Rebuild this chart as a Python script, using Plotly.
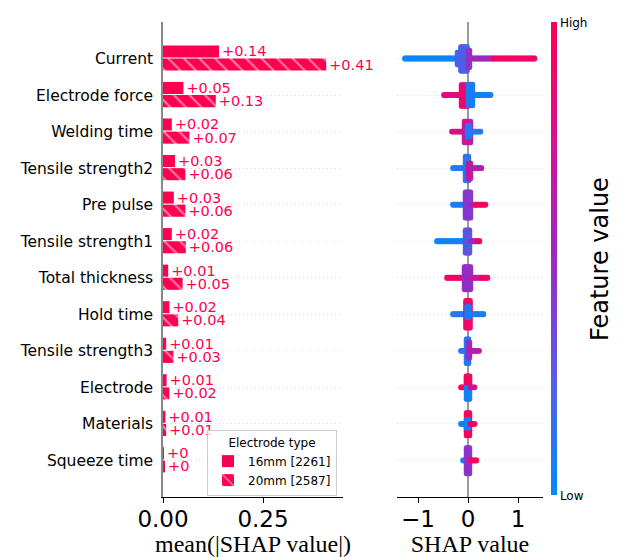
import numpy as np
import plotly.graph_objects as go

# ---------------- data ----------------
features = ["Current", "Electrode force", "Welding time", "Tensile strength2",
            "Pre pulse", "Tensile strength1", "Total thickness", "Hold time",
            "Tensile strength3", "Electrode", "Materials", "Squeeze time"]
mean_abs_16mm = [0.140, 0.051, 0.022, 0.030, 0.027, 0.022, 0.013, 0.016, 0.008, 0.009, 0.006, 0.002]
mean_abs_20mm = [0.408, 0.132, 0.066, 0.056, 0.056, 0.057, 0.049, 0.038, 0.026, 0.016, 0.008, 0.003]
legend_names = ["16mm [2261]", "20mm [2587]"]
legend_title = "Electrode type"

# Beeswarm regions:
# (shap_from, shap_to, row_offset_low, row_offset_high, feature_value[, alt_feature_value])
swarm_regions = {
    "Current": [(-1.27, -0.22, -0.03, 0.03, 0.03), (-0.22, 0.03, -0.18, 0.18, 0.12, 0.3),
                (-0.15, 0.0, -0.35, 0.35, 0.1, 0.35), (0.0, 0.04, -0.25, 0.25, 0.45),
                (0.03, 0.5, -0.03, 0.03, 0.6, 0.45), (0.5, 1.35, -0.03, 0.03, 0.95, 0.85)],
    "Electrode force": [(-0.49, -0.12, -0.03, 0.03, 0.9, 0.75), (-0.14, 0.0, -0.31, 0.31, 0.8, 0.95),
                        (0.0, 0.1, -0.3, 0.3, 0.08), (0.1, 0.47, -0.03, 0.03, 0.05)],
    "Welding time": [(-0.33, -0.08, -0.03, 0.03, 0.9, 0.7), (-0.08, 0.06, -0.31, 0.31, 0.45, 0.9),
                     (-0.02, 0.04, -0.15, 0.2, 0.1), (0.06, 0.27, -0.03, 0.03, 0.1)],
    "Tensile strength2": [(-0.31, -0.06, -0.03, 0.03, 0.1), (-0.06, 0.03, -0.35, 0.35, 0.12),
                          (0.0, 0.06, -0.3, 0.15, 0.85, 0.5), (0.06, 0.29, -0.03, 0.03, 0.55, 0.7)],
    "Pre pulse": [(-0.31, -0.06, -0.03, 0.03, 0.08), (-0.06, 0.06, -0.37, 0.37, 0.45, 0.4),
                  (0.06, 0.16, -0.03, 0.03, 0.6), (0.16, 0.37, -0.03, 0.03, 0.95)],
    "Tensile strength1": [(-0.63, -0.06, -0.03, 0.03, 0.05), (-0.06, 0.05, -0.33, 0.33, 0.12, 0.4),
                          (0.05, 0.18, -0.03, 0.03, 0.5), (0.18, 0.25, -0.03, 0.03, 0.95)],
    "Total thickness": [(-0.43, -0.08, -0.03, 0.03, 0.95, 0.85), (-0.08, 0.07, -0.33, 0.33, 0.45, 0.5),
                        (0.07, 0.28, -0.03, 0.03, 0.6, 0.8), (0.28, 0.41, -0.03, 0.03, 0.95)],
    "Hold time": [(-0.31, -0.06, -0.03, 0.03, 0.1), (-0.05, 0.05, -0.38, 0.38, 0.95, 0.85),
                  (-0.03, 0.03, -0.1, 0.25, 0.1), (0.06, 0.33, -0.03, 0.03, 0.1, 0.05)],
    "Tensile strength3": [(-0.15, -0.04, -0.03, 0.03, 0.1), (-0.04, 0.02, -0.35, 0.35, 0.1),
                          (0.0, 0.05, -0.2, 0.25, 0.5), (0.05, 0.23, -0.03, 0.03, 0.7, 0.55)],
    "Electrode": [(-0.15, -0.04, -0.03, 0.03, 0.95), (-0.04, 0.04, -0.33, 0.33, 0.05),
                  (-0.04, 0.04, 0.12, 0.33, 0.95), (0.04, 0.15, -0.03, 0.03, 0.85, 0.6)],
    "Materials": [(-0.15, -0.04, -0.03, 0.03, 0.05), (-0.04, 0.04, -0.33, 0.33, 0.95),
                  (-0.04, 0.02, -0.12, 0.15, 0.05), (0.04, 0.15, -0.03, 0.03, 0.95)],
    "Squeeze time": [(-0.11, -0.04, -0.03, 0.03, 0.05), (-0.04, 0.04, -0.37, 0.37, 0.45),
                     (0.04, 0.19, -0.03, 0.03, 0.95)],
}

RED = "#ff0051"
shap_colorscale = [[0.0, "#008bfb"], [0.25, "#5a5ce6"], [0.5, "#9a2ac2"],
                   [0.75, "#d41393"], [1.0, "#ff0051"]]

n = len(features)
positions = [n - 1 - i for i in range(n)]


def fmt(v):
    s = f"{v:.2f}".rstrip("0").rstrip(".")
    return "+" + s


fig = go.Figure()

# ---------------- bar panel ----------------
fig.add_trace(go.Bar(
    orientation="h", x=mean_abs_16mm, y=positions, width=0.33, offset=0.03,
    marker=dict(color=RED, line=dict(width=0)), name=legend_names[0],
    text=[fmt(v) for v in mean_abs_16mm], textposition="outside",
    textfont=dict(color=RED, size=14.5, family="DejaVu Sans"),
    constraintext="none", cliponaxis=False, xaxis="x", yaxis="y"))
fig.add_trace(go.Bar(
    orientation="h", x=mean_abs_20mm, y=positions, width=0.33, offset=-0.33,
    marker=dict(color=RED, line=dict(width=0),
                pattern=dict(shape="\\", fgcolor="white", bgcolor=RED, size=11, solidity=0.18)),
    name=legend_names[1],
    text=[fmt(v) for v in mean_abs_20mm], textposition="outside",
    textfont=dict(color=RED, size=14.5, family="DejaVu Sans"),
    constraintext="none", cliponaxis=False, xaxis="x", yaxis="y"))

# ---------------- beeswarm panel ----------------
xs_all, ys_all, cs_all = [], [], []
for i, f in enumerate(features):
    base = positions[i]
    for reg in swarm_regions[f]:
        x0, x1, y0, y1, v1 = reg[:5]
        v2 = reg[5] if len(reg) > 5 else v1
        xs = np.arange(x0, x1 + 1e-9, 0.02)
        if y1 - y0 <= 0.07:
            ys = np.array([y0 * 0.6, y1 * 0.6])
        else:
            ys = np.arange(y0, y1 + 1e-9, 0.04)
        for a, xv in enumerate(xs):
            for b, yv in enumerate(ys):
                xs_all.append(float(xv))
                ys_all.append(base + float(yv))
                cs_all.append(v1 if (a + b) % 2 == 0 else v2)

fig.add_trace(go.Scatter(
    x=xs_all, y=ys_all, mode="markers", showlegend=False, hoverinfo="skip",
    marker=dict(size=4.6, color=cs_all, coloraxis="coloraxis", line=dict(width=0), opacity=0.9),
    xaxis="x2", yaxis="y2"))

W, H = 627, 557
ydom = [(H - 497) / H, (H - 22) / H]
tickfont = dict(size=23, color="black", family="DejaVu Sans")
titlefont = dict(size=24, color="black", family="Liberation Serif")
GRID = "#d9d9d9"

fig.update_layout(
    width=W, height=H, autosize=False,
    margin=dict(l=0, r=0, t=0, b=0, autoexpand=False),
    paper_bgcolor="white", plot_bgcolor="white",
    font=dict(family="DejaVu Sans", color="black"),
    barmode="overlay",
    xaxis=dict(domain=[163 / W, 343 / W], range=[0, 0.45], tickvals=[0, 0.25],
               tickformat=".2f", showline=True, linecolor="black", linewidth=1,
               ticks="outside", ticklen=5, tickcolor="black", tickfont=tickfont,
               ticklabelstandoff=-4,
               showgrid=False, zeroline=False, anchor="y", automargin=False,
               title=dict(text="mean(|SHAP value|)", font=titlefont, standoff=0)),
    yaxis=dict(domain=ydom, range=[-1, 12], tickvals=positions, ticktext=features,
               tickfont=dict(size=15.5, color="black"), ticks="", ticklabelstandoff=5,
               showline=True, linecolor="#888888", linewidth=1.5, automargin=False,
               showgrid=True, gridcolor=GRID, griddash="1px,3px", gridwidth=1,
               zeroline=False, anchor="x"),
    xaxis2=dict(domain=[397 / W, 543 / W], range=[-1.42, 1.5], tickvals=[-1, 0, 1],
                showline=True, linecolor="black", linewidth=1, automargin=False,
                ticks="outside", ticklen=5, tickcolor="black", tickfont=tickfont,
                ticklabelstandoff=-4,
                showgrid=False, zeroline=True, zerolinecolor="#999999", zerolinewidth=1.5,
                anchor="y2",
                title=dict(text="SHAP value", font=titlefont, standoff=0)),
    yaxis2=dict(domain=ydom, range=[-1, 12], tickvals=positions, showticklabels=False,
                ticks="", showline=False, showgrid=True, gridcolor=GRID, automargin=False,
                griddash="1px,3px", gridwidth=1, zeroline=False, anchor="x2"),
    coloraxis=dict(colorscale=shap_colorscale, cmin=0, cmax=1,
                   colorbar=dict(x=551 / W, xanchor="left", xpad=0, ypad=0,
                                 y=(H - 259) / H, yanchor="middle",
                                 len=(496 - 23) / H, lenmode="fraction",
                                 thickness=6, thicknessmode="pixels",
                                 tickvals=[0, 1], ticktext=["Low", "High"], ticks="",
                                 tickfont=dict(size=12, color="black"), outlinewidth=0)),
    annotations=[dict(text="Feature value", textangle=-90, x=600 / W, y=(H - 259) / H,
                      xref="paper", yref="paper", xanchor="center", yanchor="middle",
                      showarrow=False, font=dict(size=24, color="black"))],
    legend=dict(x=207 / W, y=(H - 430) / H, xanchor="left", yanchor="top",
                bgcolor="rgba(255,255,255,0.85)", bordercolor="#cccccc", borderwidth=1,
                font=dict(size=12, color="black"), tracegroupgap=0,
                title=dict(text=legend_title, side="top center", font=dict(size=12))),
)

fig.write_html("out.html", config={"displayModeBar": False},
               post_script="document.body.style.margin='0';")
